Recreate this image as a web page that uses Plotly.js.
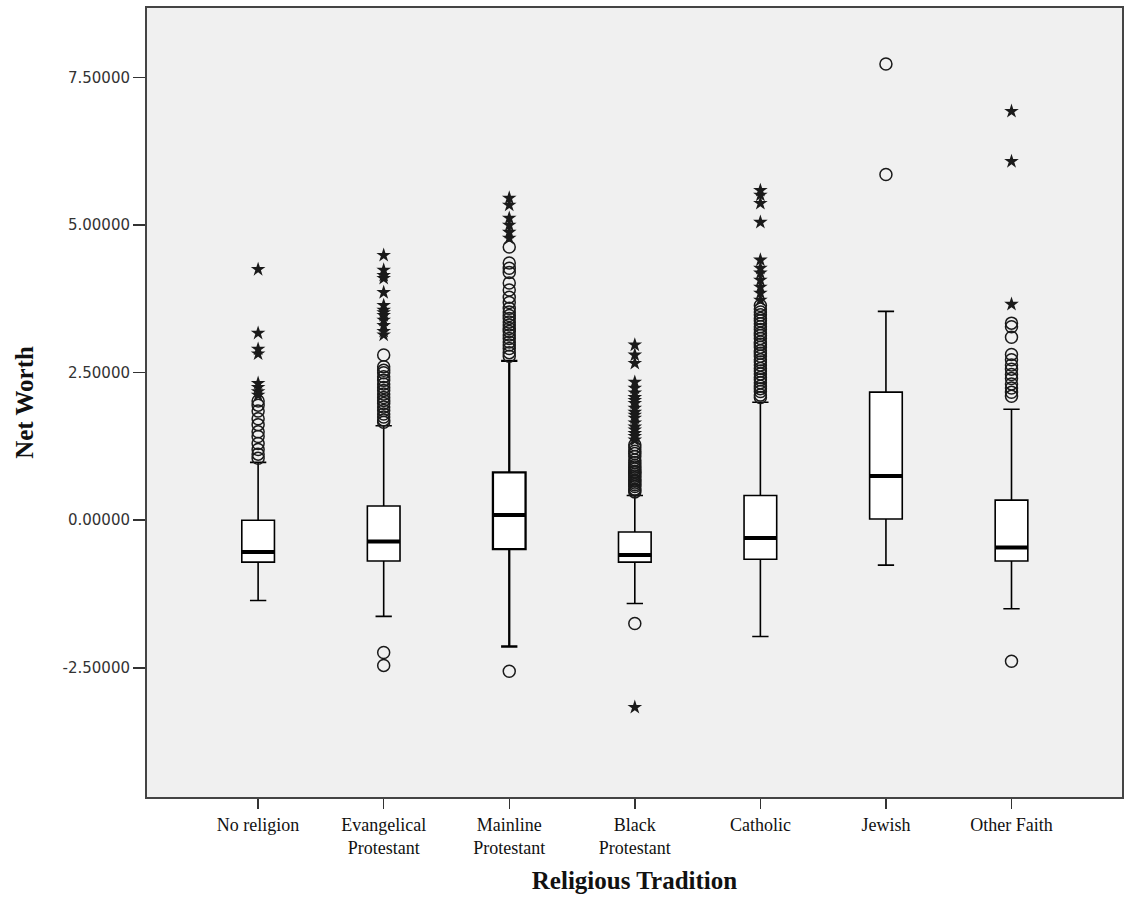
<!DOCTYPE html>
<html>
<head>
<meta charset="utf-8">
<script src="https://cdn.plot.ly/plotly-3.0.1.min.js"></script>
<style>html,body{margin:0;padding:0;background:#fff;}#chart{width:1126px;height:899px;}</style>
</head>
<body>
<div id="chart"></div>
<script>
var categories = ["No religion", "Evangelical<br>Protestant", "Mainline<br>Protestant", "Black<br>Protestant", "Catholic", "Jewish", "Other Faith"];
var q1Values = [-0.71, -0.69, -0.49, -0.71, -0.66, 0.02, -0.69];
var medianValues = [-0.54, -0.36, 0.09, -0.59, -0.30, 0.75, -0.46];
var q3Values = [0.00, 0.24, 0.81, -0.20, 0.42, 2.17, 0.34];
var lowerWhiskers = [-1.36, -1.63, -2.14, -1.41, -1.97, -0.76, -1.50];
var upperWhiskers = [0.98, 1.60, 2.70, 0.42, 2.00, 3.54, 1.88];

var circleOutliers = [
  [1.05, 1.12, 1.20, 1.30, 1.42, 1.50, 1.62, 1.72, 1.85, 1.95, 2.02],
  [1.66, 1.70, 1.75, 1.80, 1.86, 1.92, 1.98, 2.03, 2.08, 2.14, 2.20, 2.25, 2.31, 2.37, 2.43, 2.50, 2.54, 2.60, 2.80, -2.24, -2.46],
  [2.78, 2.84, 2.91, 2.97, 3.02, 3.08, 3.14, 3.20, 3.25, 3.31, 3.36, 3.42, 3.47, 3.53, 3.59, 3.69, 3.78, 3.90, 4.02, 4.20, 4.27, 4.36, 4.63, -2.56],
  [0.48, 0.51, 0.53, 0.57, 0.60, 0.63, 0.66, 0.68, 0.72, 0.75, 0.78, 0.81, 0.83, 0.87, 0.90, 0.93, 0.98, 1.02, 1.08, 1.13, 1.17, 1.23, 1.28, -1.75],
  [2.08, 2.12, 2.18, 2.23, 2.27, 2.33, 2.38, 2.42, 2.48, 2.53, 2.57, 2.63, 2.68, 2.72, 2.78, 2.83, 2.87, 2.93, 2.98, 3.02, 3.08, 3.13, 3.17, 3.23, 3.28, 3.33, 3.38, 3.42, 3.48, 3.53, 3.58, 3.64],
  [5.86, 7.73],
  [2.10, 2.17, 2.24, 2.31, 2.40, 2.47, 2.56, 2.63, 2.72, 2.81, 3.10, 3.28, 3.34, -2.39]
];
var starOutliers = [
  [2.12, 2.18, 2.25, 2.32, 2.82, 2.90, 3.17, 4.25],
  [3.14, 3.20, 3.30, 3.39, 3.47, 3.52, 3.56, 3.64, 3.86, 4.10, 4.15, 4.24, 4.49],
  [4.78, 4.88, 5.00, 5.12, 5.34, 5.46],
  [1.36, 1.42, 1.47, 1.53, 1.58, 1.65, 1.73, 1.78, 1.83, 1.90, 1.98, 2.03, 2.08, 2.16, 2.24, 2.34, 2.66, 2.80, 2.97, -3.17],
  [3.73, 3.85, 3.95, 4.07, 4.19, 4.27, 4.41, 5.05, 5.37, 5.51, 5.59],
  [],
  [3.66, 6.08, 6.93]
];
var yTickVals = [-2.5, 0, 2.5, 5, 7.5];
var yTickLabels = ["-2.50000", "0.00000", "2.50000", "5.00000", "7.50000"];

var BOXW = 0.26;
var traces = [];
categories.forEach(function (c, i) {
  traces.push({
    type: "box", x: [i], q1: [q1Values[i]], median: [medianValues[i]], q3: [q3Values[i]],
    lowerfence: [lowerWhiskers[i]], upperfence: [upperWhiskers[i]],
    boxpoints: false, width: BOXW, whiskerwidth: 0.5,
    fillcolor: "#ffffff", line: {color: "#000000", width: i === 2 ? 2.3 : 1.6},
    showlegend: false, hoverinfo: "skip"
  });
});
var mx = [], my = [];
medianValues.forEach(function (m, i) { mx.push(i - BOXW / 2, i + BOXW / 2, null); my.push(m, m, null); });
traces.push({type: "scatter", mode: "lines", x: mx, y: my, line: {color: "#000", width: 4}, showlegend: false, hoverinfo: "skip"});

var cx = [], cy = [], sx = [], sy = [];
circleOutliers.forEach(function (arr, i) { arr.forEach(function (v) { cx.push(i); cy.push(v); }); });
starOutliers.forEach(function (arr, i) { arr.forEach(function (v) { sx.push(i); sy.push(v); }); });
traces.push({type: "scatter", mode: "markers", x: cx, y: cy,
  marker: {symbol: "circle-open", size: 12, color: "#1a1a1a", line: {width: 1.5, color: "#1a1a1a"}},
  showlegend: false, hoverinfo: "skip"});
traces.push({type: "scatter", mode: "markers", x: sx, y: sy,
  marker: {symbol: "star", size: 11, color: "#1a1a1a", line: {width: 0}},
  showlegend: false, hoverinfo: "skip"});

var layout = {
  width: 1126, height: 899,
  margin: {l: 147, r: 4, t: 8, b: 102},
  paper_bgcolor: "#ffffff", plot_bgcolor: "#f0f0f0",
  showlegend: false,
  xaxis: {
    range: [-0.885, 6.88], tickmode: "array", tickvals: categories.map(function (c, i) { return i; }),
    ticktext: categories, showgrid: false, zeroline: false,
    showline: true, mirror: true, linecolor: "#444444", linewidth: 2,
    ticks: "outside", ticklen: 10, tickwidth: 1.5, tickcolor: "#333333",
    tickfont: {family: "Liberation Serif, Times New Roman, serif", size: 18, color: "#111111"},
    title: {text: "Religious Tradition", standoff: 14,
      font: {family: "Liberation Serif, Times New Roman, serif", size: 25, color: "#111111", weight: "bold"}}
  },
  yaxis: {
    range: [-4.69, 8.68], tickmode: "array", tickvals: yTickVals, ticktext: yTickLabels,
    showgrid: false, zeroline: false,
    showline: true, mirror: true, linecolor: "#444444", linewidth: 2,
    ticks: "outside", ticklen: 12, tickwidth: 1.5, tickcolor: "#333333",
    tickfont: {family: "DejaVu Sans, sans-serif", size: 15, color: "#333333"},
    title: {text: "Net Worth", standoff: 22,
      font: {family: "Liberation Serif, Times New Roman, serif", size: 25, color: "#111111", weight: "bold"}}
  }
};
Plotly.newPlot("chart", traces, layout, {displayModeBar: false, staticPlot: true});
</script>
</body>
</html>
